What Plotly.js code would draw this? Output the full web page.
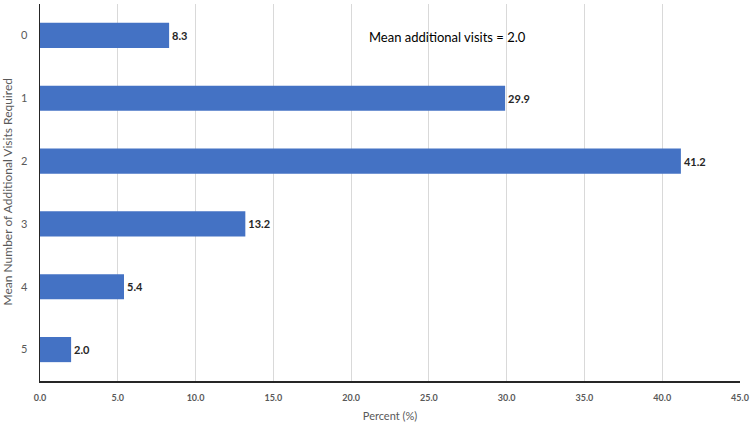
<!DOCTYPE html>
<html>
<head>
<meta charset="utf-8">
<script src="https://cdn.plot.ly/plotly-3.0.1.min.js"></script>
<style>
  html, body { margin: 0; padding: 0; background: #fff; }
  #chart { width: 750px; height: 423px; }
</style>
</head>
<body>
<div id="chart"></div>
<script>
  const visits = ['0', '1', '2', '3', '4', '5'];
  const percent = [8.3, 29.9, 41.2, 13.2, 5.4, 2.0];
  const xTicks = [0, 5, 10, 15, 20, 25, 30, 35, 40, 45];
  const meanNote = 'Mean additional visits = 2.0';
  const yTitle = 'Mean Number of Additional Visits Required';

  const trace = {
    type: 'bar',
    orientation: 'h',
    y: visits,
    x: percent,
    width: 0.4,
    marker: { color: '#4472c4' },
    text: percent.map((v) => v.toFixed(1)),
    textposition: 'outside',
    cliponaxis: false,
    textfont: { family: 'Lato, sans-serif', size: 11, color: '#262626', weight: 'bold' },
    hoverinfo: 'none',
  };

  const layout = {
    width: 750,
    height: 423,
    margin: { l: 40, r: 10, t: 4, b: 42 },
    paper_bgcolor: '#fff',
    plot_bgcolor: '#fff',
    showlegend: false,
    font: { family: 'Lato, sans-serif', color: '#595959' },
    xaxis: {
      range: [0, 45],
      tickvals: xTicks,
      ticktext: xTicks.map((v) => v.toFixed(1)),
      tickfont: { size: 9, color: '#595959', weight: 'bold' },
      showgrid: true,
      gridcolor: '#d9d9d9',
      gridwidth: 1,
      zeroline: false,
      showline: true,
      linecolor: '#262626',
      linewidth: 1.5,
      ticks: '',
      ticklabelstandoff: 8,
      title: { text: 'Percent (%)', font: { size: 11, color: '#595959' }, standoff: 10 },
    },
    yaxis: {
      autorange: 'reversed',
      type: 'category',
      tickfont: { size: 11, color: '#595959' },
      showgrid: false,
      zeroline: false,
      showline: true,
      linecolor: '#262626',
      linewidth: 1.5,
      ticks: '',
      ticklabelstandoff: 9,
      automargin: false,
    },
    annotations: [
      {
        text: meanNote,
        xref: 'x',
        yref: 'y',
        x: 26.2,
        y: '0',
        yshift: -2,
        showarrow: false,
        font: { family: 'Lato, sans-serif', size: 13, color: '#000' },
      },
      {
        text: yTitle,
        xref: 'paper',
        yref: 'paper',
        x: 0,
        y: 0.5,
        xanchor: 'center',
        yanchor: 'middle',
        xshift: -33,
        textangle: -90,
        showarrow: false,
        font: { family: 'Lato, sans-serif', size: 12, color: '#595959' },
      },
    ],
  };

  Plotly.newPlot('chart', [trace], layout, { displayModeBar: false, staticPlot: true });
</script>
</body>
</html>
